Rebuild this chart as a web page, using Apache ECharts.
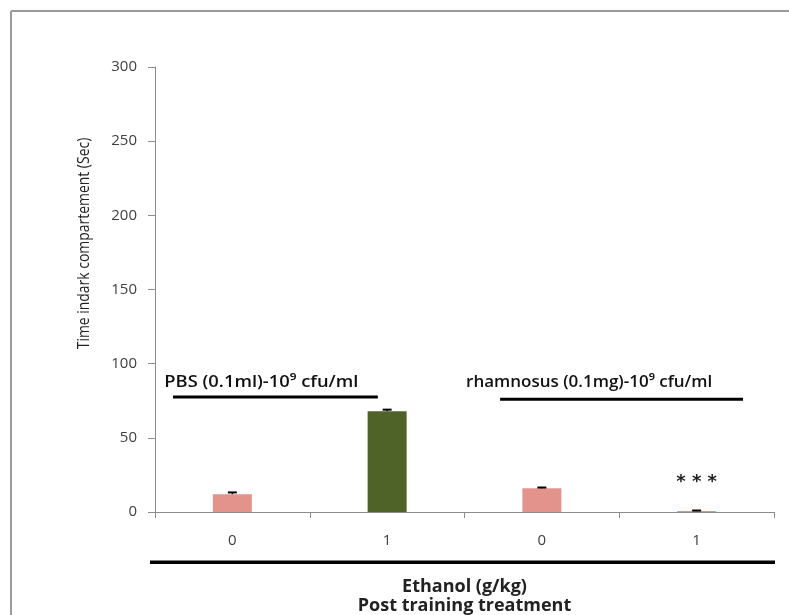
<!DOCTYPE html>
<html><head><meta charset="utf-8">
<script src="https://cdn.jsdelivr.net/npm/echarts@6/dist/echarts.min.js"></script>
<style>html,body{margin:0;padding:0;background:#fff}#c{width:789px;height:615px}</style>
</head><body><div id="c"></div>
<script>
const categories = ['0', '1', '0', '1'];
const means = [12, 68, 16, 0.6];
const errors = [1.2, 1, 0.5, 0.4];
const barColors = ['#E3938C', '#4F6228', '#E3938C', '#E3938C'];
const yTicks = [0, 50, 100, 150, 200, 250, 300];
const groupLabels = ['PBS (0.1ml)-10\u2079 cfu/ml', 'rhamnosus (0.1mg)-10\u2079 cfu/ml'];
const sigMarks = ['', '', '', '* * *'];
const yTitle = 'Time indark compartement (Sec)';
const xTitleLines = ['Ethanol (g/kg)', 'Post training treatment'];

const FONT = '"Open Sans", "Noto Sans", sans-serif';
const chart = echarts.init(document.getElementById('c'), null, {renderer: 'canvas'});

const option = {
  animation: false,
  backgroundColor: '#fff',
  grid: {left: 155, right: 15, top: 67, bottom: 103, containLabel: false, outerBoundsMode: 'none'},
  xAxis: {
    type: 'category',
    data: categories,
    axisLine: {lineStyle: {color: '#8c8c8c', width: 1}},
    axisTick: {show: true, alignWithLabel: false, length: 6, lineStyle: {color: '#8c8c8c'}},
    axisLabel: {color: '#404040', fontSize: 15, margin: 21, fontFamily: FONT},
    name: xTitleLines.join('\n'),
    nameLocation: 'middle',
    nameGap: 65,
    nameTextStyle: {color: '#222', fontSize: 18, fontWeight: 'bold', fontFamily: FONT, lineHeight: 19}
  },
  yAxis: {
    type: 'value',
    min: yTicks[0], max: yTicks[yTicks.length - 1], interval: 50,
    splitLine: {show: false},
    axisLine: {show: true, lineStyle: {color: '#8c8c8c', width: 1}},
    axisTick: {show: true, length: 7, lineStyle: {color: '#8c8c8c'}},
    axisLabel: {color: '#404040', fontSize: 15, margin: 18, fontFamily: FONT}
  },
  series: [
    {
      type: 'bar',
      barWidth: 39,
      data: means.map((v, i) => ({value: v, itemStyle: {color: barColors[i]}})),
      label: {
        show: true, position: 'top', distance: 20,
        formatter: p => sigMarks[p.dataIndex],
        color: '#222', fontSize: 18, fontWeight: 'bold', fontFamily: 'DejaVu Sans'
      }
    },
    {
      type: 'custom',
      renderItem: function (params, api) {
        const i = api.value(0);
        const m = api.value(1);
        const e = api.value(2);
        const top = api.coord([i, m + e]);
        const bot = api.coord([i, m]);
        const hw = 4.5;
        return {
          type: 'group',
          children: [
            {type: 'line', shape: {x1: top[0], y1: top[1], x2: bot[0], y2: bot[1]}, style: {stroke: '#000', lineWidth: 1.5}},
            {type: 'line', shape: {x1: top[0] - hw, y1: top[1], x2: top[0] + hw, y2: top[1]}, style: {stroke: '#000', lineWidth: 2}}
          ]
        };
      },
      data: means.map((v, i) => [i, v, errors[i]]),
      z: 10
    }
  ]
};
chart.setOption(option);

// Annotation positions derived from the axes
const px = (x, y) => chart.convertToPixel({gridIndex: 0}, [x, y]);
const catW = px(1, 0)[0] - px(0, 0)[0];
const c0 = px(0, 0), c1 = px(1, 0), c2 = px(2, 0), c3 = px(3, 0);
const yLine1 = px(0, 77.5)[1];
const yLine2 = px(0, 76)[1];
const yText = px(0, 87.5)[1];
const yBottom = px(0, -33.8)[1];
const gridLeft = px(0, 0)[0] - catW / 2;
const gridRight = px(3, 0)[0] + catW / 2;
const yTitleY = px(0, 181)[1];

chart.setOption({
  graphic: [
    {type: 'line', shape: {x1: 11, y1: 11, x2: 11, y2: 615}, style: {stroke: '#9a9a9a', lineWidth: 2}, silent: true},
    {type: 'line', shape: {x1: 11, y1: 11, x2: 789, y2: 11}, style: {stroke: '#9a9a9a', lineWidth: 2}, silent: true},
    {type: 'line', shape: {x1: c0[0] - 0.384 * catW, y1: yLine1, x2: c1[0] - 0.06 * catW, y2: yLine1}, style: {stroke: '#000', lineWidth: 3}},
    {type: 'line', shape: {x1: c2[0] - 0.27 * catW, y1: yLine2, x2: c3[0] + 0.3 * catW, y2: yLine2}, style: {stroke: '#000', lineWidth: 3}},
    {type: 'text', x: c0[0] - 0.44 * catW, y: yText, scaleX: 1.08, style: {text: groupLabels[0], fill: '#111', font: '600 17px ' + FONT, textVerticalAlign: 'middle'}},
    {type: 'text', x: c2[0] - 0.49 * catW, y: yText, scaleX: 1.0, style: {text: groupLabels[1], fill: '#111', font: '600 17px ' + FONT, textVerticalAlign: 'middle'}},
    {type: 'line', shape: {x1: gridLeft - 5, y1: yBottom, x2: gridRight + 1, y2: yBottom}, style: {stroke: '#000', lineWidth: 3.5}},
    {type: 'text', x: 84, y: yTitleY, rotation: Math.PI / 2, scaleX: 0.82,
     style: {text: yTitle, fill: '#222', font: '17px ' + FONT, textAlign: 'center', textVerticalAlign: 'middle'}}
  ]
});
</script></body></html>
